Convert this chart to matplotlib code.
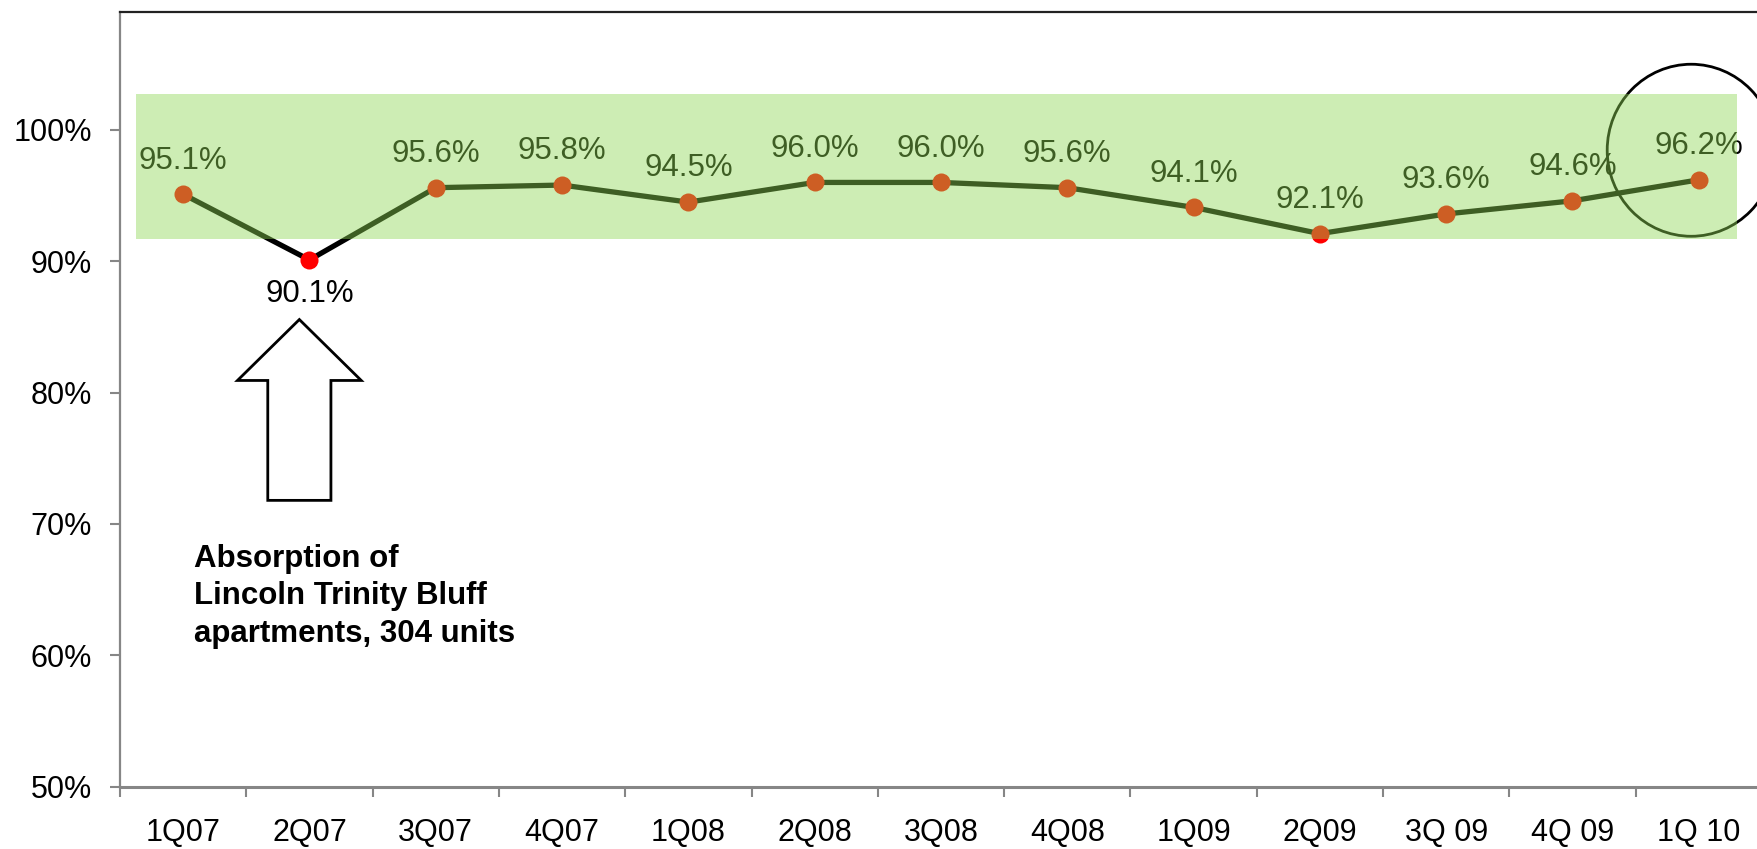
import matplotlib
matplotlib.use('Agg')
import matplotlib.pyplot as plt
import numpy as np
from matplotlib.patches import Rectangle, Polygon, Ellipse

plt.rcParams['font.family'] = ['Liberation Sans', 'DejaVu Sans']

quarters = ['1Q07', '2Q07', '3Q07', '4Q07', '1Q08', '2Q08', '3Q08', '4Q08',
            '1Q09', '2Q09', '3Q 09', '4Q 09', '1Q 10']
occupancy = [95.1, 90.1, 95.6, 95.8, 94.5, 96.0, 96.0, 95.6, 94.1, 92.1, 93.6, 94.6, 96.2]
below_labels = ['2Q07']  # label drawn under the point
yticks = [50, 60, 70, 80, 90, 100]
note = 'Absorption of\nLincoln Trinity Bluff\napartments, 304 units'

fig = plt.figure(figsize=(17.57, 8.49), dpi=100)
ax = fig.add_axes([0.0683, 0.0736, 0.9345, 0.9126])

x = np.arange(len(quarters))
ax.plot(x, occupancy, color='black', lw=3.8, zorder=3,
        marker='o', ms=13, mfc='#ff0000', mec='none')

for xi, q, v in zip(x, quarters, occupancy):
    lab = f'{v:.1f}%'
    if q in below_labels:
        ax.annotate(lab, (xi, v), xytext=(0, -14), textcoords='offset points',
                    ha='center', va='top', fontsize=22.5, color='black', zorder=4)
    else:
        ax.annotate(lab, (xi, v), xytext=(0, 18.5), textcoords='offset points',
                    ha='center', va='baseline', fontsize=22.5, color='black', zorder=4)

# circle round the latest quarter
ax.add_patch(Ellipse((x[-1] - 0.06, 98.45), 1.33, 13.1, fill=False,
                     ec='black', lw=2.0, zorder=4))

# translucent target band drawn over everything
ax.add_patch(Rectangle((-0.373, 91.67), 12.673, 11.07, fc='#8fd854',
                       alpha=0.44, ec='none', zorder=10))

# hollow arrow pointing at the dip
cx = 0.92
tip_y, head_y, base_y = 85.56, 80.92, 71.79
hw, sw = 0.49, 0.25
arrow = [(cx, tip_y), (cx + hw, head_y), (cx + sw, head_y), (cx + sw, base_y),
         (cx - sw, base_y), (cx - sw, head_y), (cx - hw, head_y)]
ax.add_patch(Polygon(arrow, closed=True, fc='white', ec='black', lw=2.0,
                     joinstyle='miter', zorder=5))

ax.text(0.0875, 68.5, note, ha='left', va='top', fontsize=22.5,
        fontweight='bold', linespacing=1.34, zorder=5)

ax.set_xlim(-0.5, len(quarters) - 0.5)
ax.set_ylim(50, 109)

ax.set_xticks(np.arange(len(quarters) + 1) - 0.5)
ax.set_xticklabels([])
ax.set_xticks(x, minor=True)
ax.set_xticklabels(quarters, minor=True)
ax.tick_params(axis='x', which='major', length=7.2, width=1.5, color='#868686', direction='out')
ax.tick_params(axis='x', which='minor', length=0, pad=23, labelsize=22)

ax.set_yticks(yticks)
ax.set_yticklabels([f'{t}%' for t in yticks])
ax.tick_params(axis='y', length=7.2, width=1.5, color='#868686', pad=13, labelsize=22)

ax.spines['left'].set_color('#868686')
ax.spines['left'].set_linewidth(1.6)
ax.spines['bottom'].set_color('#868686')
ax.spines['bottom'].set_linewidth(2.2)
ax.spines['top'].set_color('#222222')
ax.spines['top'].set_linewidth(1.6)
ax.spines['right'].set_visible(False)

fig.savefig('out.png', dpi=100)
